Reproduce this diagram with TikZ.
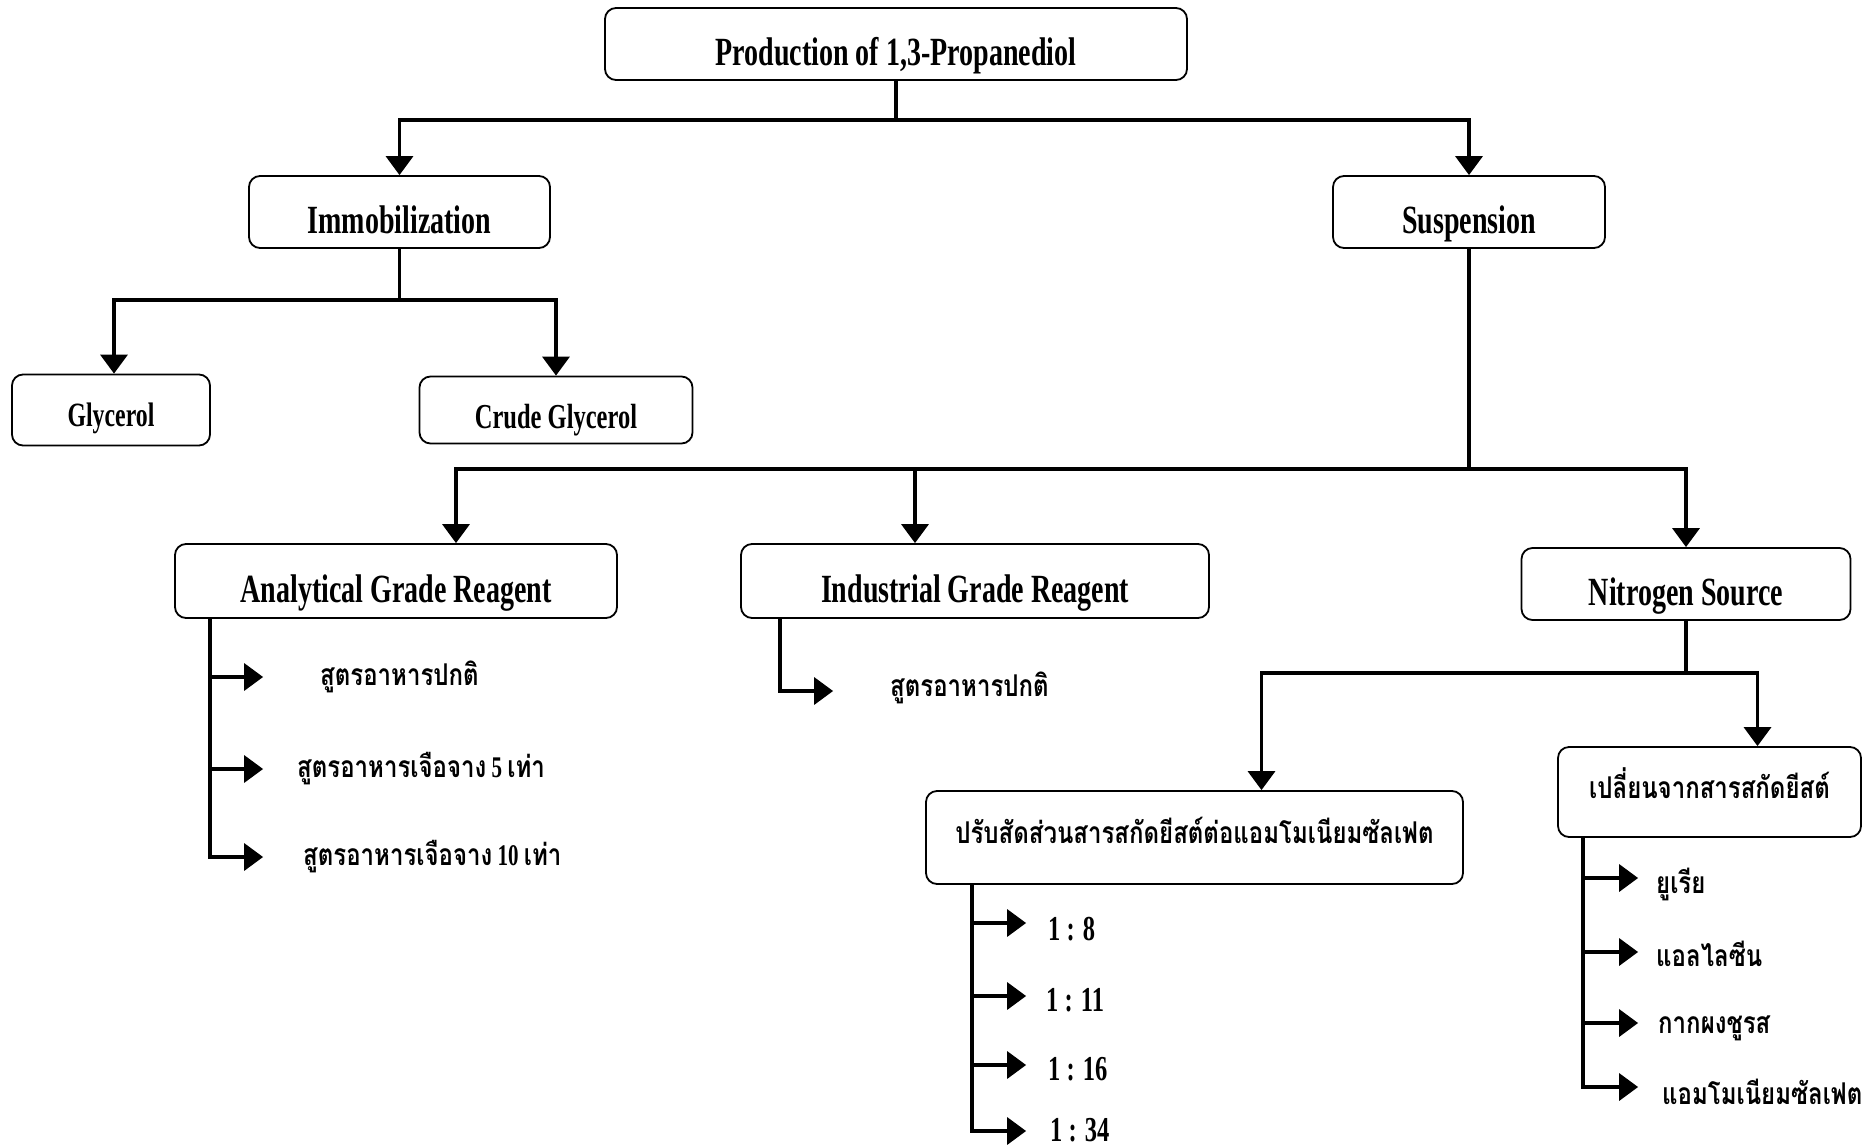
\documentclass[tikz,border=0pt]{standalone}
\usepackage{fontspec}
\setmainfont{Liberation Serif}[FakeStretch=0.7]
\newfontfamily\thaifont{Loma}[Script=Thai, FakeStretch=0.8]
\usetikzlibrary{arrows.meta,calc}
\begin{document}
\begin{tikzpicture}[x=1pt,y=-1pt,
  box/.style={draw, line width=1.8pt, rounded corners=11pt, inner sep=0pt,
    text height=42pt, text depth=0pt,
    font=\bfseries\fontsize{40}{44}\selectfont},
  tbox/.style={draw, line width=1.8pt, rounded corners=11pt, inner sep=0pt,
    text height=12pt, text depth=0pt,
    font=\thaifont\bfseries\fontsize{30}{34}\selectfont},
  conn/.style={line width=3.5pt, line cap=rect},
  arr/.style={line width=3.5pt, -{Triangle[length=19pt,width=27pt]}},
  thai/.style={anchor=west, inner sep=0pt, font=\thaifont\bfseries\fontsize{30}{34}\selectfont},
  ratio/.style={anchor=west, inner sep=0pt, font=\bfseries\fontsize{35}{38}\selectfont}]
\path[use as bounding box, fill=white] (0,0) rectangle (1868,1146);

% boxes
\node[box, minimum width=582pt, minimum height=72pt] (prod) at (896,44) {Production of 1,3-Propanediol};
\node[box, minimum width=301pt, minimum height=72pt] (imm) at (399.5,212) {Immobilization};
\node[box, minimum width=272pt, minimum height=72pt] (sus) at (1469,212) {Suspension};
\node[box, minimum width=198pt, minimum height=71pt, text height=33pt, font=\bfseries\fontsize{34}{38}\selectfont] (gly) at (111,410) {Glycerol};
\node[box, minimum width=273pt, minimum height=67pt, text height=37pt, font=\bfseries\fontsize{35}{38}\selectfont] (crude) at (556,410) {Crude Glycerol};
\node[box, minimum width=442pt, minimum height=74pt] (ana) at (396,581) {Analytical Grade Reagent};
\node[box, minimum width=468pt, minimum height=74pt] (ind) at (975,581) {Industrial Grade Reagent};
\node[box, minimum width=329pt, minimum height=72pt] (nit) at (1686,584) {Nitrogen Source};
\node[tbox, minimum width=537pt, minimum height=93pt] (prb) at (1194.5,837.5) {ปรับสัดส่วนสารสกัดยีสต์ต่อแอมโมเนียมซัลเฟต};
\node[tbox, minimum width=303pt, minimum height=90pt] (chg) at (1709.5,792) {เปลี่ยนจากสารสกัดยีสต์};

% level 1
\draw[conn] (prod.south) -- ++(0,39) coordinate (j1);
\draw[arr] (j1) -| (imm.north);
\draw[arr] (j1) -| (sus.north);

% immobilization
\draw[conn] (imm.south) -- ++(0,51) coordinate (j2);
\path (gly.north) ++(3,0) coordinate (glyIn);
\draw[arr] (j2) -| (glyIn);
\draw[arr] (j2) -| (crude.north);

% suspension
\draw[conn] (sus.south) -- ++(0,220) coordinate (j3);
\path (ana.north) ++(60,0) coordinate (anaIn);
\path (ind.north) ++(-60,0) coordinate (indIn);
\draw[arr] (j3) -| (anaIn);
\draw[arr] (j3 -| indIn) -- (indIn);
\draw[arr] (j3) -| (nit.north);

% nitrogen source
\draw[conn] (nit.south) -- ++(0,52) coordinate (j4);
\path (prb.north) ++(67,0) coordinate (prbIn);
\path (chg.north) ++(48,0) coordinate (chgIn);
\draw[arr] (j4) -| (prbIn);
\draw[arr] (j4) -| (chgIn);

% analytical list
\node[thai] (a1) at (320,677) {สูตรอาหารปกติ};
\node[thai] (a2) at (297,769) {สูตรอาหารเจือจาง{\rmfamily\ 5\ }เท่า};
\node[thai] (a3) at (303,857) {สูตรอาหารเจือจาง{\rmfamily\ 10\ }เท่า};
\path (ana.south west) ++(36,0) coordinate (ta);
\draw[arr] (ta |- a1.west) -- ++(53,0);
\draw[arr] (ta |- a2.west) -- ++(53,0);
\draw[arr] (ta) |- ($(ta |- a3.west)+(53,0)$);

% industrial list
\node[thai] (i1) at (890,688) {สูตรอาหารปกติ};
\path (ind.south west) ++(40,0) coordinate (ti);
\draw[arr] (ti) |- ($(ti |- i1.west)+(53,3)$);

% ratio list
\node[ratio] (r1) at (1048,929) {1 : 8};
\node[ratio] (r2) at (1046,1000) {1 : 11};
\node[ratio] (r3) at (1048,1069) {1 : 16};
\node[ratio] (r4) at (1050,1130) {1 : 34};
\path (prb.south west) ++(47,0) coordinate (tr);
\draw[arr] ($(tr |- r1.west)+(0,-6)$) -- ++(54,0);
\draw[arr] ($(tr |- r2.west)+(0,-4)$) -- ++(54,0);
\draw[arr] ($(tr |- r3.west)+(0,-4)$) -- ++(54,0);
\draw[arr] (tr) |- ($(tr |- r4.west)+(54,1)$);

% nitrogen alternatives list
\node[thai] (n1) at (1656,884) {ยูเรีย};
\node[thai] (n2) at (1656,954) {แอลไลซีน};
\node[thai] (n3) at (1658,1028) {กากผงชูรส};
\node[thai] (n4) at (1662,1092) {แอมโมเนียมซัลเฟต};
\path (chg.south west) ++(26,0) coordinate (tn);
\draw[arr] ($(tn |- n1.west)+(0,-6)$) -- ++(55,0);
\draw[arr] ($(tn |- n2.west)+(0,-2)$) -- ++(55,0);
\draw[arr] ($(tn |- n3.west)+(0,-5)$) -- ++(55,0);
\draw[arr] (tn) |- ($(tn |- n4.west)+(55,-5)$);
\end{tikzpicture}
\end{document}
